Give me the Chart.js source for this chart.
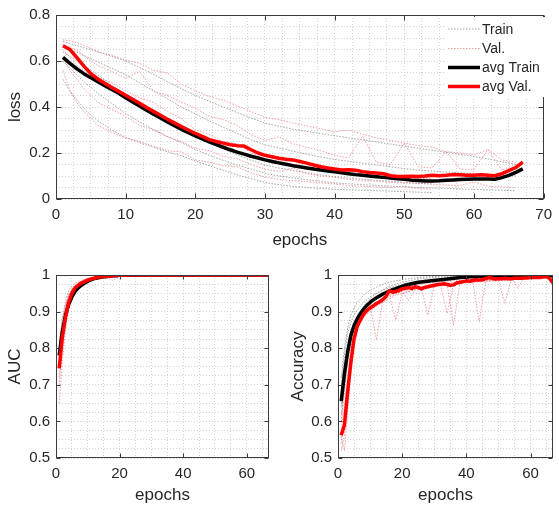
<!DOCTYPE html>
<html>
<head>
<meta charset="utf-8">
<script src="https://cdn.jsdelivr.net/npm/chart.js@4.4.0/dist/chart.umd.min.js"></script>
<style>
  html, body { margin: 0; padding: 0; background: #fff; }
  #wrap { position: relative; width: 559px; height: 508px; overflow: hidden; background: #fff; }
  canvas { position: absolute; }
</style>
</head>
<body>
<div id="wrap">
  <canvas id="loss" width="559" height="255" style="left:0;top:0;width:559px;height:255px"></canvas>
  <canvas id="auc" width="280" height="253" style="left:0;top:255px;width:280px;height:253px"></canvas>
  <canvas id="acc" width="279" height="253" style="left:280px;top:255px;width:279px;height:253px"></canvas>
</div>
<script>
"use strict";

// epochs of the averaged curves
const epochs = Array.from({ length: 67 }, (_, i) => i + 1);
// epochs sampled for the single folds (dotted lines)
const foldEpochs = [1, 2, 3, 4, 5, 6, 8, 10, 12, 14, 16, 18, 20, 22, 24, 26, 28, 30, 32, 34, 36, 38, 40, 42, 44, 46, 48, 50, 52, 54, 56, 58, 60, 62, 64, 66];

const legendLabels = ["Train", "Val.", "avg Train", "avg Val."];

const lossXTicks = [0, 10, 20, 30, 40, 50, 60, 70];
const lossYTicks = [0, 0.2, 0.4, 0.6, 0.8];
const smallXTicks = [0, 20, 40, 60];
const smallYTicks = [0.5, 0.6, 0.7, 0.8, 0.9, 1];

// ---------- loss ----------
const lossAvgTrain = [
  .616, .590, .566, .545, .527, .510, .493, .476, .460, .440,
  .422, .404, .386, .369, .352, .335, .319, .303, .288, .274,
  .261, .248, .236, .225, .214, .204, .195, .186, .178, .170,
  .163, .157, .151, .145, .140, .135, .130, .126, .122, .118,
  .114, .110, .106, .103, .100, .097, .094, .091, .088, .086,
  .082, .080, .078, .078, .079, .081, .083, .085, .086, .087,
  .087, .087, .086, .093, .103, .116, .131
];
const lossAvgVal = [
  .666, .650, .615, .578, .545, .522, .503, .485, .468, .451,
  .434, .416, .398, .381, .364, .347, .331, .315, .300, .285,
  .272, .258, .250, .243, .236, .232, .230, .214, .200, .190,
  .184, .177, .173, .170, .163, .156, .148, .140, .135, .130,
  .126, .127, .125, .119, .115, .113, .110, .101, .098, .098,
  .099, .098, .100, .103, .101, .103, .106, .105, .103, .103,
  .105, .103, .101, .110, .123, .137, .160
];
const lossTrainFolds = [
  [.685, .676, .667, .658, .649, .640, .620, .600, .572, .542, .510, .480, .450, .425, .400, .376, .352, .330, .316, .304, .294, .284, .275, .266, .257, .248, .239, .230, .221, .212, .203, .194, .185, .174, .162, .150],
  [.665, .652, .638, .624, .610, .596, .568, .540, .505, .470, .435, .400, .370, .340, .312, .285, .258, .235, .222, .208, .195, .183, .172, .164, .156, .148, .140, .132, .126, .121, .117, .114, .110, .107, .104, .100],
  [.640, .620, .600, .580, .560, .540, .495, .452, .415, .380, .345, .310, .275, .245, .218, .192, .168, .148, .135, .124, .114, .105, .097, .091, .086, .081, .077, .072, .068, .065, null, null, null, null, null, null],
  [.600, .570, .540, .510, .485, .460, .415, .372, .335, .302, .272, .245, .215, .190, .168, .148, .130, .112, .100, .092, .084, .077, .070, .066, .062, .059, .056, .053, .050, .048, .046, .044, .042, .040, .038, .036],
  [.520, .470, .430, .395, .365, .340, .300, .268, .245, .225, .205, .188, .165, .145, .125, .105, .088, .072, .062, .055, .050, .046, .042, .040, .038, .036, .034, .032, .030, .028, null, null, null, null, null, null]
];
const lossValFolds = [
  [.692, .688, .680, .668, .655, .640, .625, .605, .590, .560, .548, .500, .470, .445, .430, .405, .380, .355, .345, .330, .318, .305, .292, .300, .282, .265, .255, .243, .232, .225, .206, .200, .192, .215, .170, .160],
  [.670, .660, .645, .625, .600, .580, .555, .525, .555, .470, .450, .420, .395, .360, .345, .320, .280, .255, .270, .240, .225, .210, .190, .178, .275, .160, .150, .243, .140, .135, .206, .130, .128, .215, .125, .150],
  [.650, .615, .580, .560, .545, .530, .505, .470, .440, .420, .380, .350, .300, .280, .250, .240, .200, .175, .165, .150, .140, .130, .125, .115, .110, .105, .110, .095, .090, .088, null, null, null, null, null, null],
  [.610, .560, .520, .480, .450, .420, .390, .360, .320, .300, .270, .250, .220, .210, .185, .175, .150, .130, .120, .135, .110, .100, .095, .085, .080, .078, .072, .070, .068, .065, .060, .058, .075, .055, .052, .050],
  [.560, .470, .420, .380, .350, .320, .290, .265, .250, .230, .210, .205, .170, .160, .145, .140, .115, .095, .085, .080, .075, .070, .065, .058, .055, .052, .050, .055, .045, .043, null, null, null, null, null, null]
];

// ---------- AUC ----------
const aucAvgTrain = [
  .780, .845, .890, .920, .940, .955, .965, .972, .978, .983,
  .987, .990, .992, .994, .995, .996, .997, .998, .998, .999,
  .999, .999, .999, .999, .999, 1, 1, 1, 1, 1,
  1, 1, 1, 1, 1, 1, 1, 1, 1, 1,
  1, 1, 1, 1, 1, 1, 1, 1, 1, 1,
  1, 1, 1, 1, 1, 1, 1, 1, 1, 1,
  1, 1, 1, 1, 1, 1, 1
];
const aucAvgVal = [
  .745, .830, .885, .925, .950, .965, .972, .978, .982, .986,
  .989, .991, .993, .995, .996, .996, .997, .998, .999, .999,
  .999, .999, 1, 1, 1, 1, 1, 1, 1, 1,
  1, 1, 1, 1, 1, 1, 1, 1, 1, 1,
  1, 1, 1, 1, 1, 1, 1, 1, 1, 1,
  1, 1, 1, 1, 1, 1, 1, 1, 1, 1,
  1, 1, 1, 1, 1, 1, 1
];
const aucTrainFolds = [
  [.820, .880, .920, .945, .960, .970, .982, .988, .992, .995, .997, .998, .999, .999, 1, 1, 1, 1, 1, 1, 1, 1, 1, 1, 1, 1, 1, 1, 1, 1, 1, 1, 1, 1, 1, 1],
  [.780, .850, .900, .930, .950, .962, .976, .985, .990, .993, .995, .997, .998, .999, 1, 1, 1, 1, 1, 1, 1, 1, 1, 1, 1, 1, 1, 1, 1, 1, 1, 1, 1, 1, 1, 1],
  [.750, .830, .880, .915, .940, .955, .972, .982, .988, .992, .995, .997, .998, .999, 1, 1, 1, 1, 1, 1, 1, 1, 1, 1, 1, 1, 1, 1, 1, 1, null, null, null, null, null, null],
  [.800, .870, .915, .945, .962, .972, .984, .990, .994, .996, .998, .999, 1, 1, 1, 1, 1, 1, 1, 1, 1, 1, 1, 1, 1, 1, 1, 1, 1, 1, 1, 1, 1, 1, 1, 1],
  [.760, .840, .890, .925, .945, .958, .974, .984, .990, .994, .996, .998, .999, 1, 1, 1, 1, 1, 1, 1, 1, 1, 1, 1, 1, 1, 1, 1, 1, 1, null, null, null, null, null, null]
];
const aucValFolds = [
  [.700, .800, .880, .930, .955, .968, .980, .986, .990, .993, .995, .996, .997, .998, .999, 1, 1, 1, 1, 1, 1, 1, 1, 1, 1, 1, 1, 1, 1, 1, 1, 1, 1, 1, 1, 1],
  [.650, .760, .850, .910, .945, .962, .978, .985, .990, .992, .994, .985, .996, .997, .999, 1, 1, 1, 1, 1, 1, 1, 1, 1, 1, 1, 1, 1, 1, 1, 1, 1, 1, 1, 1, 1],
  [.760, .850, .910, .945, .962, .972, .982, .988, .992, .995, .996, .997, .998, .999, 1, 1, 1, 1, 1, 1, 1, 1, 1, 1, 1, 1, 1, 1, 1, 1, null, null, null, null, null, null],
  [.800, .880, .930, .958, .970, .978, .986, .991, .994, .996, .997, .998, .999, 1, 1, 1, 1, 1, 1, 1, 1, 1, 1, 1, 1, 1, 1, 1, 1, 1, 1, 1, 1, 1, 1, 1],
  [.720, .830, .900, .940, .960, .970, .982, .988, .992, .995, .997, .998, .999, 1, 1, 1, 1, 1, 1, 1, 1, 1, 1, 1, 1, 1, 1, 1, 1, 1, null, null, null, null, null, null]
];

// ---------- Accuracy ----------
const accAvgTrain = [
  .655, .730, .790, .835, .862, .880, .895, .907, .917, .925,
  .932, .938, .943, .948, .952, .956, .960, .963, .966, .969,
  .972, .974, .976, .978, .980, .981, .982, .983, .984, .985,
  .986, .987, .988, .989, .990, .991, .992, .993, .994, .994,
  .995, .995, .996, .996, .996, .997, .997, .997, .997, .998,
  .998, .998, .998, .998, .998, .998, .998, .998, .998, .998,
  .998, .998, .998, .998, .998, .998, .998
];
const accAvgVal = [
  .562, .590, .680, .760, .825, .860, .877, .893, .903, .910,
  .916, .922, .927, .933, .942, .957, .953, .955, .958, .962,
  .964, .966, .963, .968, .966, .962, .966, .968, .970, .972,
  .974, .975, .976, .974, .972, .973, .978, .980, .982, .984,
  .983, .985, .987, .986, .987, .990, .993, .991, .989, .990,
  .990, .991, .990, .990, .991, .991, .991, .992, .992, .993,
  .993, .993, .993, .995, .996, .990, .978
];
const accTrainFolds = [
  [.700, .780, .840, .870, .890, .905, .925, .940, .950, .958, .965, .970, .975, .979, .982, .985, .987, .989, .990, .991, .992, .993, .994, .995, .995, .996, .996, .997, .997, .997, .998, .998, .998, .998, .998, .998],
  [.640, .720, .780, .830, .860, .880, .905, .922, .935, .945, .953, .960, .966, .971, .975, .979, .982, .985, .987, .989, .990, .991, .992, .993, .994, .994, .995, .995, .996, .996, .996, .997, .997, .997, .997, .997],
  [.600, .680, .760, .820, .860, .885, .915, .935, .950, .960, .968, .975, .980, .984, .987, .990, .992, .993, .994, .995, .996, .997, .997, .998, .998, .998, .999, .999, .999, .999, null, null, null, null, null, null],
  [.720, .800, .855, .890, .910, .925, .945, .958, .967, .974, .980, .984, .987, .990, .992, .994, .995, .996, .997, .997, .998, .998, .998, .999, .999, .999, .999, .999, .999, .999, .999, .999, .999, .999, .999, .999],
  [.620, .700, .770, .820, .855, .878, .905, .925, .940, .950, .958, .965, .971, .976, .980, .983, .986, .988, .990, .991, .992, .993, .994, .995, .995, .996, .996, .997, .997, .997, null, null, null, null, null, null]
];
const accValFolds = [
  [.560, .520, .620, .740, .820, .860, .890, .905, .920, .930, .945, .950, .955, .960, .965, .968, .970, .972, .975, .978, .980, .982, .983, .985, .986, .987, .988, .990, .990, .991, .992, .992, .993, .993, .994, .994],
  [.580, .640, .720, .800, .850, .880, .900, .915, .822, .935, .945, .877, .950, .955, .960, .965, .890, .970, .972, .975, .863, .978, .980, .982, .872, .984, .985, .986, .923, .988, .989, .990, .990, .991, .992, .990],
  [.540, .600, .700, .790, .840, .870, .895, .910, .925, .930, .940, .948, .955, .930, .962, .965, .968, .970, .972, .895, .975, .978, .980, .982, .983, .984, .985, .986, .987, .988, null, null, null, null, null, null],
  [.600, .700, .780, .840, .870, .890, .910, .925, .935, .945, .955, .960, .965, .968, .972, .975, .978, .980, .982, .983, .985, .986, .987, .988, .989, .990, .990, .991, .991, .992, .964, .993, .993, .994, .994, .994],
  [.520, .560, .660, .760, .820, .855, .885, .900, .915, .925, .935, .945, .950, .955, .960, .962, .965, .968, .970, .972, .974, .976, .978, .980, .981, .982, .983, .984, .985, .986, null, null, null, null, null, null]
];

// ---------- styles ----------
const FONT = "'Liberation Sans', Arial, Helvetica, sans-serif";
const TEXT = "#262626";
const TRAIN_DOT = "rgba(140,140,140,0.8)";
const VAL_DOT = "rgba(240,120,132,0.75)";
const GRID = "#d2d2d2";

Chart.defaults.font.family = FONT;
Chart.defaults.color = TEXT;

function toPoints(xs, ys) {
  return xs.map((x, i) => ({ x: x, y: ys[i] })).filter(p => p.y !== null);
}

function buildDatasets(avgTrain, avgVal, trainFolds, valFolds) {
  let ds = [];
  ds.push({ label: legendLabels[3], data: toPoints(epochs, avgVal), borderColor: "#ff0000", borderWidth: 3.5, order: 0 });
  ds.push({ label: legendLabels[2], data: toPoints(epochs, avgTrain), borderColor: "#000000", borderWidth: 3.5, order: 1 });
  valFolds.forEach(f => {
    ds.push({ label: legendLabels[1], data: toPoints(foldEpochs, f), borderColor: VAL_DOT, borderWidth: 1, borderDash: [1.5, 1.5], order: 2 });
  });
  trainFolds.forEach(f => {
    ds.push({ label: legendLabels[0], data: toPoints(foldEpochs, f), borderColor: TRAIN_DOT, borderWidth: 1, borderDash: [1.5, 1.5], order: 3 });
  });
  return ds;
}

// major ticks plus 3 minor steps in between (for the dotted grid)
function gridValues(min, max, majors) {
  let step = (majors[1] - majors[0]) / 4;
  let vals = [];
  for (let k = 0; min + k * step <= max + 1e-9; k++) {
    vals.push(+(min + k * step).toFixed(6));
  }
  return vals;
}

function makeScale(horizontal, min, max, majors, title, size, tickPad) {
  return {
    type: "linear",
    min: min,
    max: max,
    afterBuildTicks: s => { s.ticks = gridValues(min, max, majors).map(v => ({ value: v })); },
    afterFit: s => { if (horizontal) s.height = size; else s.width = size; },
    ticks: {
      autoSkip: false,
      maxRotation: 0,
      padding: tickPad,
      color: TEXT,
      font: { size: 15 },
      callback: v => (majors.includes(v) ? String(v) : "")
    },
    grid: { color: GRID, lineWidth: 1, drawTicks: false },
    border: { display: false, dash: [1, 2] },
    title: {
      display: true,
      text: title,
      color: TEXT,
      font: { size: 17 },
      padding: horizontal ? { top: 0, bottom: 2 } : { top: 3, bottom: 0 }
    }
  };
}

// box around the axes with inward tick marks (matlab look)
const framePlugin = {
  id: "frame",
  afterDraw(chart, args, opts) {
    const { ctx, chartArea: a, scales } = chart;
    const l = Math.round(a.left) + 0.5, r = Math.round(a.right) - 0.5;
    const t = Math.round(a.top) + 0.5, b = Math.round(a.bottom) - 0.5;
    ctx.save();
    ctx.strokeStyle = "#3a3a3a";
    ctx.lineWidth = 1;
    ctx.strokeRect(l, t, r - l, b - t);
    ctx.beginPath();
    opts.xMajors.forEach(v => {
      const x = Math.round(scales.x.getPixelForValue(v)) + 0.5;
      ctx.moveTo(x, b); ctx.lineTo(x, b - opts.len);
      ctx.moveTo(x, t); ctx.lineTo(x, t + opts.len);
    });
    opts.yMajors.forEach(v => {
      const y = Math.round(scales.y.getPixelForValue(v)) + 0.5;
      ctx.moveTo(l, y); ctx.lineTo(l + opts.len, y);
      ctx.moveTo(r, y); ctx.lineTo(r - opts.len, y);
    });
    ctx.stroke();

    if (opts.legend) {
      const g = opts.legend;
      ctx.fillStyle = "#ffffff";
      ctx.fillRect(g.x, g.y, g.w, g.h);
      const styles = [
        { c: TRAIN_DOT, w: 1, d: [1.5, 1.5] },
        { c: VAL_DOT, w: 1, d: [1.5, 1.5] },
        { c: "#000000", w: 3.5, d: [] },
        { c: "#ff0000", w: 3.5, d: [] }
      ];
      ctx.font = "14px " + FONT;
      ctx.textBaseline = "middle";
      ctx.textAlign = "left";
      legendLabels.forEach((lab, i) => {
        const y = g.rows[i];
        ctx.beginPath();
        ctx.strokeStyle = styles[i].c;
        ctx.lineWidth = styles[i].w;
        ctx.setLineDash(styles[i].d);
        ctx.moveTo(g.lineX0, y);
        ctx.lineTo(g.lineX1, y);
        ctx.stroke();
        ctx.setLineDash([]);
        ctx.fillStyle = TEXT;
        ctx.fillText(lab, g.textX, y + 1);
      });
    }
    ctx.restore();
  }
};

function makeChart(id, datasets, xScale, yScale, padding, frame) {
  return new Chart(document.getElementById(id), {
    type: "line",
    data: { datasets: datasets },
    options: {
      responsive: false,
      animation: false,
      devicePixelRatio: 1,
      layout: { padding: padding },
      elements: {
        point: { radius: 0 },
        line: { tension: 0, borderJoinStyle: "round", borderCapStyle: "butt" }
      },
      scales: { x: xScale, y: yScale },
      plugins: {
        legend: { display: false },
        tooltip: { enabled: false },
        frame: frame
      }
    },
    plugins: [framePlugin]
  });
}

makeChart("loss",
  buildDatasets(lossAvgTrain, lossAvgVal, lossTrainFolds, lossValFolds),
  makeScale(true, 0, 70, lossXTicks, "epochs", 54, 7),
  makeScale(false, 0, 0.8, lossYTicks, "loss", 54, 6),
  { left: 2, right: 8, top: 14, bottom: 2 },
  {
    xMajors: lossXTicks, yMajors: lossYTicks, len: 5,
    legend: { x: 444, y: 17, w: 102, h: 80, rows: [29, 48.5, 67.5, 86.5], lineX0: 448, lineX1: 480, textX: 482 }
  });

makeChart("auc",
  buildDatasets(aucAvgTrain, aucAvgVal, aucTrainFolds, aucValFolds),
  makeScale(true, 0, 67, smallXTicks, "epochs", 50, 7),
  makeScale(false, 0.5, 1, smallYTicks, "AUC", 54, 6),
  { left: 2, right: 11, top: 20, bottom: 0 },
  { xMajors: smallXTicks, yMajors: smallYTicks, len: 4 });

makeChart("acc",
  buildDatasets(accAvgTrain, accAvgVal, accTrainFolds, accValFolds),
  makeScale(true, 0, 67, smallXTicks, "epochs", 50, 7),
  makeScale(false, 0.5, 1, smallYTicks, "Accuracy", 53, 6),
  { left: 5, right: 6, top: 20, bottom: 0 },
  { xMajors: smallXTicks, yMajors: smallYTicks, len: 4 });
</script>
</body>
</html>
